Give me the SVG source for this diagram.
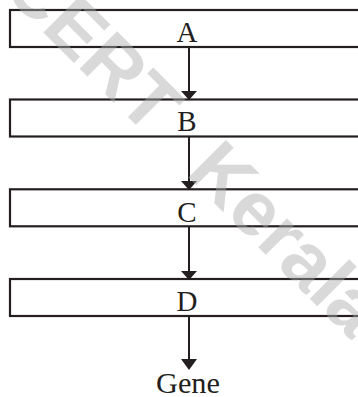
<svg xmlns="http://www.w3.org/2000/svg" width="358" height="397" viewBox="0 0 358 397">
<style>
.box{fill:none;stroke:#231f20;stroke-width:2.2}
.lbl{font-family:"Liberation Serif","Times New Roman",serif;font-size:29px;fill:#231f20;text-anchor:middle}
.ln{stroke:#231f20;stroke-width:2;fill:none}
.hd{fill:#231f20}
.wm{font-family:"Liberation Sans",Arial,sans-serif;font-weight:bold;font-size:77px;fill:#aaaaaa;fill-opacity:0.45;word-spacing:30px}
</style>
<rect width="358" height="397" fill="#ffffff"/>
<g id="node-A"><rect class="box" x="10" y="10" width="360" height="37"/><text class="lbl" x="187" y="42">A</text></g>
<g id="node-B"><rect class="box" x="10" y="99.5" width="360" height="37"/><text class="lbl" x="187" y="131">B</text></g>
<g id="node-C"><rect class="box" x="10" y="189.3" width="360" height="37"/><text class="lbl" x="187" y="221.5">C</text></g>
<g id="node-D"><rect class="box" x="10" y="279" width="360" height="37"/><text class="lbl" x="187" y="311">D</text></g>
<g id="node-Gene"><text class="lbl" x="188" y="392.5" textLength="64" lengthAdjust="spacingAndGlyphs">Gene</text></g>
<g id="connectors">
<line class="ln" x1="189" y1="47" x2="189" y2="92"/>
<polygon class="hd" points="181,91 197,91 189,100"/>
<line class="ln" x1="189" y1="136.5" x2="189" y2="182"/>
<polygon class="hd" points="181,181 197,181 189,190"/>
<line class="ln" x1="189" y1="226.3" x2="189" y2="272"/>
<polygon class="hd" points="181,271 197,271 189,280"/>
<line class="ln" x1="189" y1="316" x2="189" y2="361"/>
<polygon class="hd" points="181,359 197,359 189,370"/>
</g>
<g id="watermark"><text class="wm" transform="translate(-36,-47) rotate(45)" x="0" y="0">SCERT Kerala</text></g>
</svg>
